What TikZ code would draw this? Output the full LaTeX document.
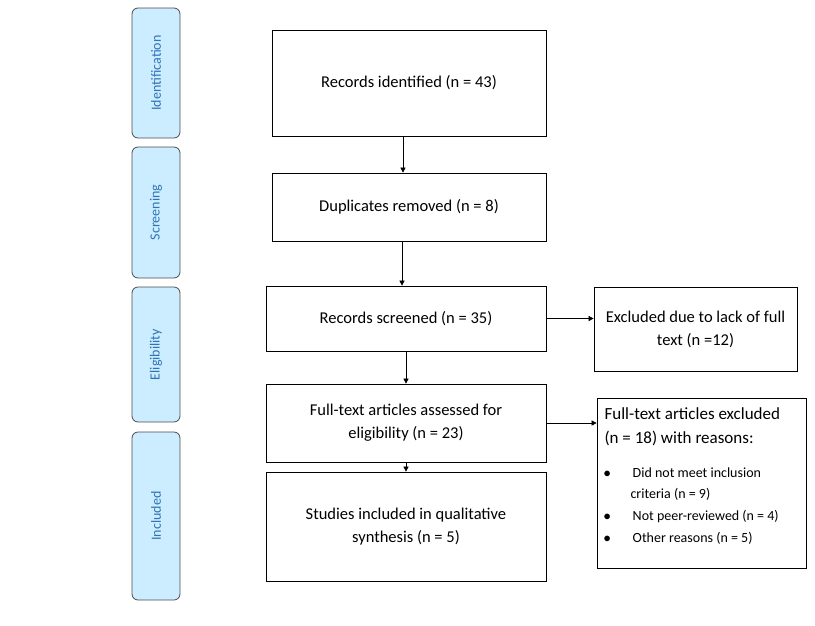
\documentclass[tikz,border=0pt]{standalone}
\usepackage{fontspec}
\setmainfont{Carlito}
\usetikzlibrary{arrows.meta}
\definecolor{stagefill}{RGB}{204,236,255}
\definecolor{stagetext}{RGB}{46,117,182}
\begin{document}
\begin{tikzpicture}[x=1pt, y=-1pt,
    stage/.style={draw=black!70, fill=stagefill, rounded corners=6pt, line width=0.8pt,
        minimum width=48pt, font=\fontsize{14}{16}\selectfont\color{stagetext}},
    flowbox/.style={draw, line width=0.7pt, align=center, font=\fontsize{16.5}{23}\selectfont},
    flowarrow/.style={-{Triangle[length=5pt,width=5pt]}, line width=0.6pt}]
    \useasboundingbox (0,0) rectangle (815,625);

    % Fasi laterali
    \node[stage, minimum height=130pt] (identification) at (156,73) {\rotatebox{90}{Identification}};
    \node[stage, minimum height=131pt] (screening) at (156,212.5) {\rotatebox{90}{Screening}};
    \node[stage, minimum height=135pt] (eligibility) at (156,354.5) {\rotatebox{90}{Eligibility}};
    \node[stage, minimum height=168pt] (included) at (156,516) {\rotatebox{90}{Included}};

    % Riquadri principali
    \node[flowbox, minimum width=274pt, minimum height=106pt] (identified) at (409,83) {Records identified (n = 43)};
    \node[flowbox, minimum width=274pt, minimum height=68pt] (duplicates) at (409,207) {Duplicates removed (n = 8)};
    \node[flowbox, minimum width=280pt, minimum height=65pt] (screened) at (406,318.5) {Records screened (n = 35)};
    \node[flowbox, minimum width=280pt, minimum height=78pt] (fulltext) at (406,423) {Full-text articles assessed for\\eligibility (n = 23)};
    \node[flowbox, minimum width=280pt, minimum height=109pt] (studies) at (406,526.5) {Studies included in qualitative\\synthesis (n = 5)};

    % Riquadri degli esclusi
    \node[flowbox, minimum width=203pt, minimum height=84pt] (nofulltext) at (695.5,329) {Excluded due to lack of full\\text (n =12)};
    \node[draw, line width=0.7pt, minimum width=209pt, minimum height=170pt] (excluded) at (701.5,483) {};
    \node[anchor=north west, align=left, font=\fontsize{17}{24}\selectfont] (reasons) at (601,404)
        {Full-text articles excluded\\(n = 18) with reasons:};
    \node[anchor=north west, align=left, font=\fontsize{14}{21.7}\selectfont] (reasonlist) at (600,464)
        {$\bullet$\hspace{22pt}Did not meet inclusion\\\hspace{27pt}criteria (n = 9)\\$\bullet$\hspace{22pt}Not peer-reviewed (n = 4)\\$\bullet$\hspace{22pt}Other reasons (n = 5)};

    % Frecce
    \draw[flowarrow] (identified.south -| 403,0) -- (duplicates.north -| 403,0);
    \draw[flowarrow] (duplicates.south -| 402,0) -- (screened.north -| 402,0);
    \draw[flowarrow] (screened) -- (fulltext);
    \draw[flowarrow] (fulltext) -- (studies);
    \draw[flowarrow] (screened.east) -- (screened.east -| nofulltext.west);
    \draw[flowarrow] (fulltext.east) -- (fulltext.east -| excluded.west);
\end{tikzpicture}
\end{document}
